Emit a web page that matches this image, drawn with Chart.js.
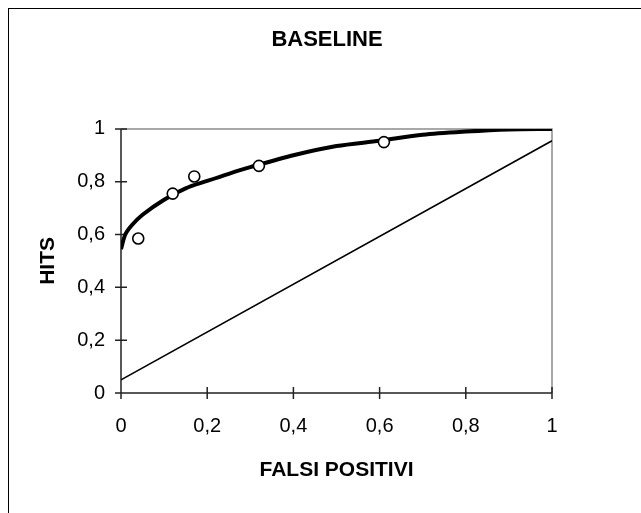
<!DOCTYPE html>
<html>
<head>
<meta charset="utf-8">
<script src="https://cdn.jsdelivr.net/npm/chart.js@4"></script>
<style>
  html, body { margin: 0; padding: 0; background: #fff; overflow: hidden; }
  #frame { position: absolute; left: 8px; top: 8px; width: 700px; height: 600px; border: 1px solid #000; }
  #wrap { position: absolute; left: 0; top: 0; width: 641px; height: 513px; }
</style>
</head>
<body>
<div id="frame"></div>
<div id="wrap"><canvas id="roc" width="641" height="513"></canvas></div>
<script>
// observed hit / false-alarm pairs
const obsFalse = [0.04, 0.12, 0.17, 0.32, 0.61];
const obsHits = [0.585, 0.755, 0.82, 0.86, 0.95];

// fitted ROC curve
const curveFalse = [0, 0.01, 0.025, 0.05, 0.1, 0.15, 0.2, 0.25, 0.3, 0.4, 0.5, 0.6, 0.7, 0.8, 0.9, 1];
const curveHits = [0.545, 0.6, 0.635, 0.675, 0.732, 0.775, 0.803, 0.83, 0.855, 0.9, 0.935, 0.955, 0.978, 0.99, 0.998, 1];

// chance line
const chanceFalse = [0, 1];
const chanceHits = [0.05, 0.955];

const tickValues = [0, 0.2, 0.4, 0.6, 0.8, 1];

const FONT = "'Liberation Sans', Arial, sans-serif";

function pairs(xs, ys) {
  return xs.map((x, i) => ({ x: x, y: ys[i] }));
}

function fmt(v) {
  return String(Math.round(v * 10) / 10).replace(".", ",");
}

/* ===== Frame and tick marks ===== */

const framePlugin = {
  id: "frame",
  beforeDatasetsDraw(chart) {
    const ctx = chart.ctx;
    const a = chart.chartArea;
    const xs = chart.scales.x;
    const ys = chart.scales.y;
    ctx.save();
    ctx.lineWidth = 1.5;
    ctx.strokeStyle = "#8c8c8c";
    ctx.beginPath();
    ctx.moveTo(a.left, a.top);
    ctx.lineTo(a.right, a.top);
    ctx.lineTo(a.right, a.bottom);
    ctx.stroke();

    ctx.strokeStyle = "#222";
    ctx.beginPath();
    ctx.moveTo(a.left, a.top);
    ctx.lineTo(a.left, a.bottom);
    ctx.lineTo(a.right, a.bottom);
    tickValues.forEach(v => {
      const px = xs.getPixelForValue(v);
      ctx.moveTo(px, a.bottom - 6);
      ctx.lineTo(px, a.bottom + 6);
      const py = ys.getPixelForValue(v);
      ctx.moveTo(a.left - 6, py);
      ctx.lineTo(a.left + 6, py);
    });
    ctx.stroke();
    ctx.restore();
  }
};

new Chart(document.getElementById("roc"), {
  type: "scatter",
  data: {
    datasets: [
      {
        data: pairs(obsFalse, obsHits),
        pointRadius: 5.5,
        pointBorderWidth: 1.6,
        pointBackgroundColor: "#fff",
        pointBorderColor: "#000",
        showLine: false
      },
      {
        data: pairs(curveFalse, curveHits),
        showLine: true,
        borderColor: "#000",
        borderWidth: 4,
        pointRadius: 0,
        tension: 0.3,
        borderCapStyle: "butt"
      },
      {
        data: pairs(chanceFalse, chanceHits),
        showLine: true,
        borderColor: "#000",
        borderWidth: 1.6,
        pointRadius: 0
      }
    ]
  },
  options: {
    responsive: false,
    animation: false,
    devicePixelRatio: 1,
    layout: { padding: { left: 13, right: 0, top: 0, bottom: 0 } },
    plugins: {
      legend: { display: false },
      tooltip: { enabled: false },
      title: {
        display: true,
        text: "BASELINE",
        color: "#000",
        font: { family: FONT, size: 22, weight: "bold" },
        padding: { top: 26.5, bottom: 76 }
      }
    },
    scales: {
      x: {
        type: "linear",
        min: 0,
        max: 1,
        grid: { display: false, drawTicks: false },
        border: { display: false },
        ticks: {
          stepSize: 0.2,
          padding: 21,
          color: "#000",
          font: { family: FONT, size: 20 },
          callback: v => fmt(v)
        },
        title: {
          display: true,
          text: "FALSI POSITIVI",
          color: "#000",
          font: { family: FONT, size: 21, weight: "bold" },
          padding: { top: 0, bottom: 30.4 }
        },
        afterFit: scale => { scale.height = 120; }
      },
      y: {
        type: "linear",
        min: 0,
        max: 1,
        grid: { display: false, drawTicks: false },
        border: { display: false },
        ticks: {
          stepSize: 0.2,
          padding: 16,
          color: "#000",
          font: { family: FONT, size: 20 },
          callback: v => fmt(v)
        },
        title: {
          display: true,
          text: "HITS",
          color: "#000",
          font: { family: FONT, size: 21, weight: "bold" },
          padding: { top: 23, bottom: 0 }
        },
        afterFit: scale => { scale.width = 108; }
      },
      y2: {
        type: "linear",
        position: "right",
        min: 0,
        max: 1,
        grid: { display: false, drawTicks: false },
        border: { display: false },
        ticks: { display: false },
        afterFit: scale => { scale.width = 89; }
      }
    }
  },
  plugins: [framePlugin]
});
</script>
</body>
</html>
